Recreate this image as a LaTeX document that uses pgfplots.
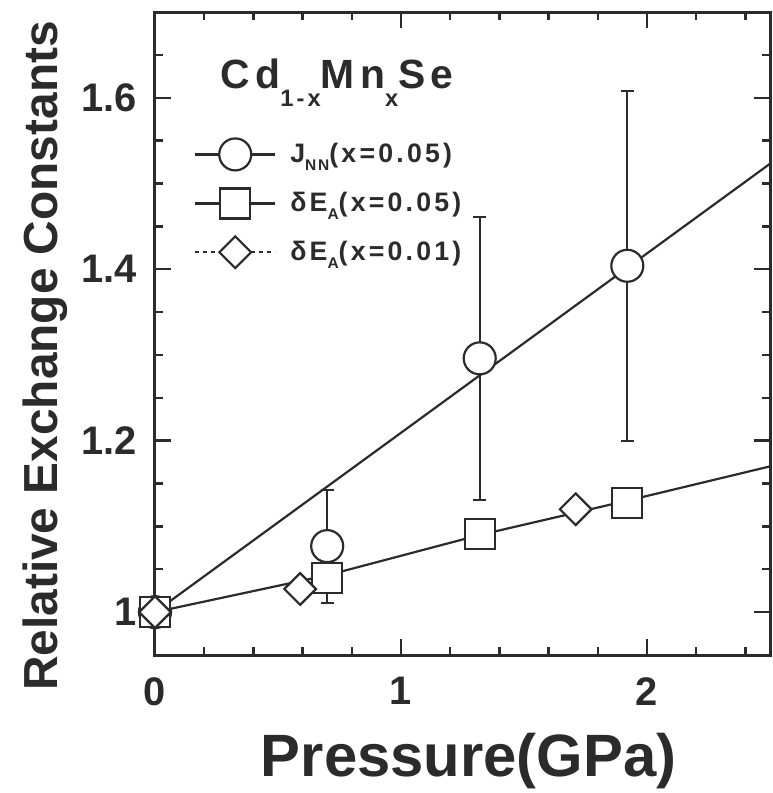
\documentclass[border=0pt]{standalone}
\usepackage{fontspec}
\setmainfont{Liberation Sans}
\newfontfamily\spaced{Liberation Sans}[LetterSpace=12]
\newfontfamily\widespaced{Liberation Sans}[LetterSpace=13]
\usepackage{pgfplots}
\pgfplotsset{compat=1.18}

\definecolor{ink}{gray}{0.17}

% lowered, reduced subscript in the text font
\newcommand{\lowsub}[2][-0.3em]{\raisebox{#1}{\scalebox{0.58}{#2}}}

\begin{document}
\begin{tikzpicture}
\useasboundingbox (-77.5bp,-69bp) rectangle (309bp,327.5bp);
\begin{axis}[
  at={(0,0)}, anchor=south west,
  scale only axis,
  width=307.5bp, height=321.5bp,
  xmin=0, xmax=2.5, ymin=0.95, ymax=1.70,
  xtick={0,1,2}, ytick={1,1.2,1.4,1.6},
  minor xtick={0.2,0.4,0.6,0.8,1.2,1.4,1.6,1.8,2.2,2.4},
  minor ytick={1.05,1.1,1.15,1.25,1.3,1.35,1.45,1.5,1.55,1.65},
  major tick length=8bp, minor tick length=4bp,
  tick align=inside,
  every tick/.style={ink, line width=1.2bp},
  axis line style={ink, line width=1.5bp},
  /pgf/number format/assume math mode=true,
  tick label style={font=\fontsize{20}{22}\selectfont\bfseries, text=ink},
  xticklabel style={inner sep=0pt, yshift=-11bp},
  yticklabel style={inner sep=0pt, xshift=-9bp},
  xlabel={Pressure(GPa)},
  ylabel={Relative Exchange Constants},
  xlabel style={font=\fontsize{30}{32}\selectfont\bfseries, text=ink,
    at={(axis description cs:0.51,-0.1897)}, anchor=base, inner sep=0pt},
  ylabel style={font=\fontsize{24}{26}\selectfont\bfseries, text=ink,
    at={(axis description cs:-0.159,0.465)}, anchor=base, inner sep=0pt},
  legend style={draw=none, fill=none,
    at={(axis description cs:0.063,0.804)}, anchor=north west,
    font=\spaced\fontsize{13.4}{15}\selectfont\bfseries, text=ink,
    row sep=9bp, inner sep=0pt,
    nodes={inner sep=0pt},
    /tikz/every odd column/.append style={column sep=7bp}},
  legend cell align=left,
  legend image code/.code={%
    \draw[mark repeat=2, mark phase=2, #1]
      plot coordinates {(0bp,0bp) (20bp,0bp) (40bp,0bp)};},
]

% trend lines
\addplot[ink, line width=1.1bp, forget plot] coordinates {(0,1) (2.5,1.523)};
\addplot[ink, line width=1.1bp, forget plot] coordinates
  {(0,1) (0.70,1.043) (1.32,1.090) (1.92,1.130) (2.5,1.170)};

% J_NN, x = 0.05
\addplot[only marks, forget plot, mark=*, mark size=8bp,
  mark options={fill=white, draw=ink, line width=1.1bp}]
  coordinates {(0,1)};
\addplot[only marks, forget plot, mark=*, mark size=8bp,
  mark options={fill=white, draw=ink, line width=1.1bp},
  error bars/.cd, y dir=both, y explicit,
  error bar style={ink, line width=1bp},
  error mark options={ink, line width=1bp, mark size=3.25bp, rotate=90}]
  coordinates {
    (0.70,1.077) +- (0,0.066)
    (1.32,1.296) +- (0,0.165)
    (1.92,1.404) +- (0,0.204)
  };

% dE_A, x = 0.05
\addplot[only marks, forget plot, mark=square*, mark size=7.5bp,
  mark options={fill=white, draw=ink, line width=1.1bp}]
  coordinates {(0,1) (0.70,1.040) (1.32,1.091) (1.92,1.127)};

% dE_A, x = 0.01
\addplot[only marks, forget plot, mark=square*, mark size=5.6bp,
  mark options={fill=white, draw=ink, line width=1.1bp, rotate=45}]
  coordinates {(0,1) (0.59,1.027) (1.71,1.120)};

\addlegendimage{ink, line width=1.1bp, mark=*, mark size=8bp,
  mark options={fill=white, draw=ink, line width=1.1bp}}
\addlegendentry{J\lowsub{NN}(x=0.05)}
\addlegendimage{ink, line width=1.1bp, mark=square*, mark size=7.5bp,
  mark options={fill=white, draw=ink, line width=1.1bp}}
\addlegendentry{δE\lowsub{A}(x=0.05)}
\addlegendimage{ink, line width=1.1bp, dash pattern=on 2bp off 2bp,
  mark=square*, mark size=5.6bp,
  mark options={solid, fill=white, draw=ink, line width=1.1bp, rotate=45}}
\addlegendentry{δE\lowsub{A}(x=0.01)}

\node[anchor=base west, inner sep=0pt,
  font=\widespaced\fontsize{20.5}{22}\selectfont\bfseries, text=ink]
  at (axis cs:0.265,1.611) {Cd\lowsub[-0.45em]{1-x}Mn\lowsub[-0.45em]{x}Se};
\end{axis}
\end{tikzpicture}
\end{document}
